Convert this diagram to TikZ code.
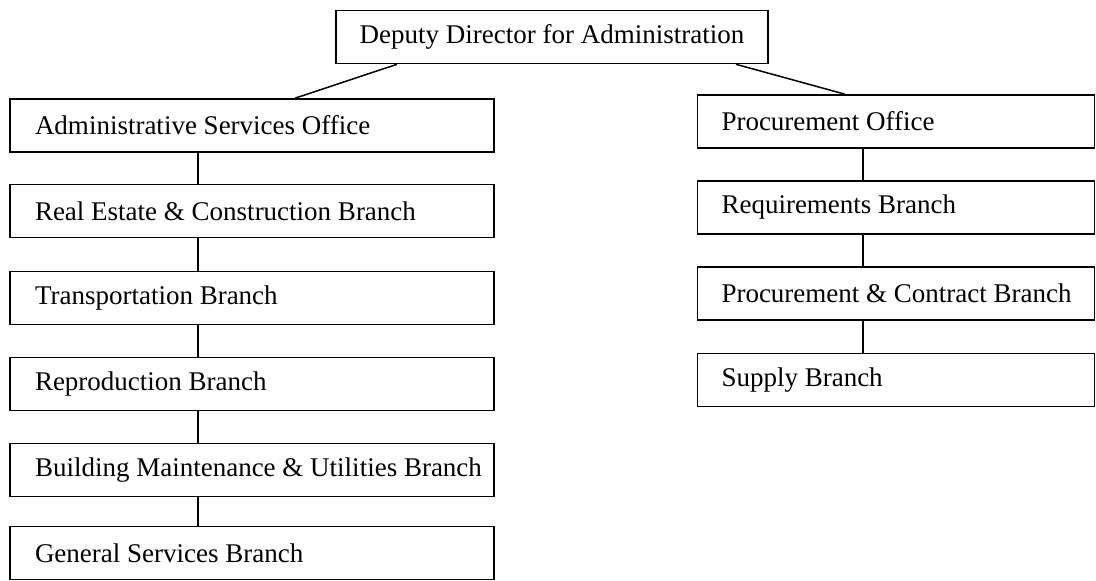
\documentclass[tikz,border=0pt]{standalone}
\usepackage{fontspec}
\setmainfont{Liberation Serif}
\newcommand{\ltxt}[1]{\makebox[434pt][l]{#1}}
\newcommand{\rtxt}[1]{\makebox[349pt][l]{#1}}
\begin{document}
\begin{tikzpicture}[x=1pt,y=-1pt,
  box/.style={draw, line width=1.6pt, inner ysep=0pt, minimum height=53pt,
              font=\fontsize{27}{32}\selectfont},
  lbox/.style={box, inner xsep=25pt},
  rbox/.style={box, inner xsep=24pt},
  link/.style={line width=1.5pt}]
\useasboundingbox (0,0) rectangle (1096,581);
% top
\node[box, minimum width=432pt, inner xsep=0pt] (dd) at (552,37) {Deputy Director for Administration};
% left column
\node[lbox] (adm) at (252,125.5) {\ltxt{Administrative Services Office}};
\node[lbox] (re)  at (252,211)   {\ltxt{Real Estate \& Construction Branch}};
\node[lbox] (tr)  at (252,298)   {\ltxt{Transportation Branch}};
\node[lbox] (rep) at (252,384)   {\ltxt{Reproduction Branch}};
\node[lbox] (bm)  at (252,470)   {\ltxt{Building Maintenance \& Utilities Branch}};
\node[lbox] (gs)  at (252,553)   {\ltxt{General Services Branch}};
% right column
\node[rbox] (proc) at (896,121.5) {\rtxt{Procurement Office}};
\node[rbox] (req)  at (896,207.5) {\rtxt{Requirements Branch}};
\node[rbox] (pc)   at (896,293.5) {\rtxt{Procurement \& Contract Branch}};
\node[rbox] (sup)  at (896,380)   {\rtxt{Supply Branch}};
% connectors from top
\draw[link] ([xshift=-155pt]dd.south) -- ([xshift=43pt]adm.north);
\draw[link] ([xshift=184pt]dd.south) -- ([xshift=-51pt]proc.north);
% left chain
\foreach \a/\b in {adm/re, re/tr, tr/rep, rep/bm, bm/gs}
  \draw[link] ([xshift=-54pt]\a.south) -- ([xshift=-54pt]\b.north);
% right chain
\foreach \a/\b in {proc/req, req/pc, pc/sup}
  \draw[link] ([xshift=-33pt]\a.south) -- ([xshift=-33pt]\b.north);
\end{tikzpicture}
\end{document}
